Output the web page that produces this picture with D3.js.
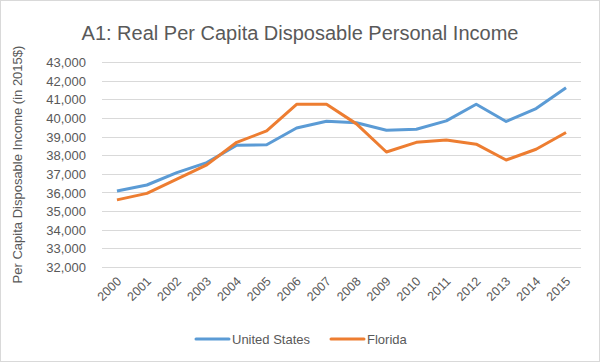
<!DOCTYPE html>
<html>
<head>
<script src="https://cdn.jsdelivr.net/npm/d3@7"></script>
<style>
body { margin: 0; background: #fff; }
text { font-family: 'Liberation Sans', sans-serif; fill: #595959; }
</style>
</head>
<body>
<svg id="chart" width="600" height="362"></svg>
<script>
const years = ['2000','2001','2002','2003','2004','2005','2006','2007','2008','2009','2010','2011','2012','2013','2014','2015'];
const unitedStates = [36080, 36400, 37060, 37600, 38530, 38560, 39460, 39820, 39740, 39340, 39390, 39840, 40730, 39810, 40500, 41620];
const florida = [35600, 35950, 36720, 37480, 38690, 39300, 40730, 40730, 39680, 38170, 38690, 38820, 38590, 37740, 38320, 39220];
const yTicks = [32000, 33000, 34000, 35000, 36000, 37000, 38000, 39000, 40000, 41000, 42000, 43000];

const svg = d3.select('#chart');
const margin = { left: 102, right: 19, top: 62, bottom: 95 };
const W = 600, H = 362;

svg.append('rect')
  .attr('x', 0.5).attr('y', 0.5)
  .attr('width', W - 1).attr('height', H - 1)
  .attr('fill', '#fff').attr('stroke', '#d9d9d9');

const x = d3.scaleBand().domain(years).range([margin.left, W - margin.right]);
const y = d3.scaleLinear().domain([32000, 43000]).range([H - margin.bottom, margin.top]);

// gridlines
svg.append('g').selectAll('line')
  .data(yTicks)
  .enter()
  .append('line')
  .attr('x1', margin.left).attr('x2', W - margin.right)
  .attr('y1', d => Math.round(y(d)) + 0.5).attr('y2', d => Math.round(y(d)) + 0.5)
  .attr('stroke', '#d9d9d9').attr('stroke-width', 1);

// y axis labels
const yAxis = svg.append('g')
  .attr('transform', `translate(${margin.left - 13},0)`)
  .call(d3.axisLeft(y).tickValues(yTicks).tickFormat(d3.format(',')).tickSize(0));
yAxis.select('.domain').remove();
yAxis.selectAll('text').attr('font-size', 13).attr('dy', '0.35em').style('fill', '#595959');

// x axis labels
const xAxis = svg.append('g')
  .attr('transform', `translate(0,${H - margin.bottom})`)
  .call(d3.axisBottom(x).tickSize(0));
xAxis.select('.domain').remove();
xAxis.selectAll('text')
  .attr('font-size', 12.5)
  .attr('text-anchor', 'end')
  .attr('dy', 0)
  .attr('transform', 'translate(3,13) rotate(-45)')
  .style('fill', '#595959');

const line = d3.line()
  .x((d, i) => x(years[i]) + x.bandwidth() / 2)
  .y(d => y(d));

svg.append('path').datum(unitedStates)
  .attr('d', line).attr('fill', 'none')
  .attr('stroke', '#5b9bd5').attr('stroke-width', 3).attr('stroke-linejoin', 'round');
svg.append('path').datum(florida)
  .attr('d', line).attr('fill', 'none')
  .attr('stroke', '#ed7d31').attr('stroke-width', 3).attr('stroke-linejoin', 'round');

// title
svg.append('text')
  .attr('x', 300).attr('y', 40)
  .attr('text-anchor', 'middle')
  .attr('font-size', 20)
  .text('A1: Real Per Capita Disposable Personal Income');

// y axis title
svg.append('text')
  .attr('transform', `translate(22,${(margin.top + H - margin.bottom) / 2}) rotate(-90)`)
  .attr('text-anchor', 'middle')
  .attr('font-size', 13)
  .text('Per Capita Disposable Income (in 2015$)');

// legend
const legend = [
  { name: 'United States', color: '#5b9bd5', x: 196 },
  { name: 'Florida', color: '#ed7d31', x: 331 }
];
const lg = svg.append('g').selectAll('g').data(legend).enter().append('g');
lg.append('line')
  .attr('x1', d => d.x).attr('x2', d => d.x + 33)
  .attr('y1', 339).attr('y2', 339)
  .attr('stroke', d => d.color).attr('stroke-width', 3).attr('stroke-linecap', 'round');
lg.append('text')
  .attr('x', d => d.x + 36).attr('y', 339).attr('dy', '0.35em')
  .attr('font-size', 13)
  .text(d => d.name);
</script>
</body>
</html>
